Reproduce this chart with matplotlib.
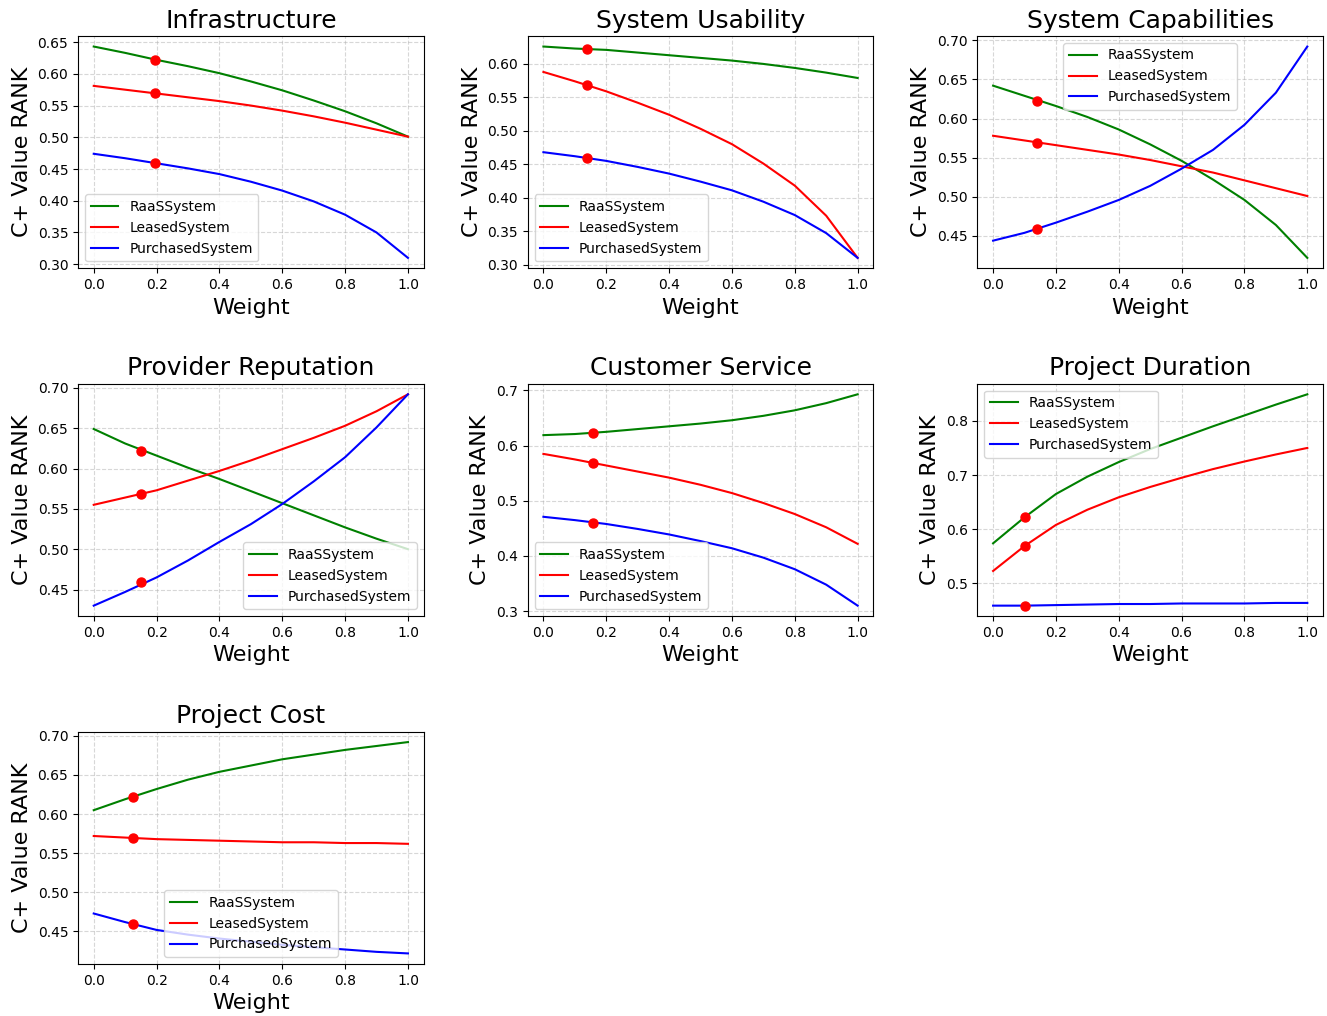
import matplotlib
matplotlib.use("Agg")
import matplotlib.pyplot as plt
import numpy as np

weights = [0.0, 0.1, 0.2, 0.3, 0.4, 0.5, 0.6, 0.7, 0.8, 0.9, 1.0]
alternatives = ["RaaSSystem", "LeasedSystem", "PurchasedSystem"]
colors = ["green", "red", "blue"]

criteria = ["Infrastructure", "System Usability", "System Capabilities",
            "Provider Reputation", "Customer Service", "Project Duration",
            "Project Cost"]

# current criterion weights and the resulting C+ values of each alternative
current_weights = [0.196, 0.138, 0.141, 0.152, 0.157, 0.100, 0.125]
current_scores = [0.622, 0.569, 0.459]

infrastructure_raas = [0.643, 0.633, 0.622, 0.612, 0.601, 0.588, 0.574, 0.558, 0.541, 0.522, 0.501]
infrastructure_leased = [0.581, 0.575, 0.569, 0.563, 0.557, 0.550, 0.542, 0.533, 0.523, 0.512, 0.501]
infrastructure_purchased = [0.474, 0.467, 0.459, 0.451, 0.442, 0.430, 0.416, 0.399, 0.378, 0.350, 0.310]

usability_raas = [0.626, 0.623, 0.621, 0.617, 0.613, 0.609, 0.605, 0.600, 0.594, 0.587, 0.579]
usability_leased = [0.588, 0.574, 0.559, 0.542, 0.524, 0.503, 0.480, 0.451, 0.418, 0.373, 0.310]
usability_purchased = [0.468, 0.462, 0.455, 0.446, 0.436, 0.424, 0.411, 0.394, 0.374, 0.347, 0.310]

capabilities_raas = [0.642, 0.629, 0.616, 0.602, 0.586, 0.567, 0.546, 0.522, 0.496, 0.464, 0.422]
capabilities_leased = [0.578, 0.572, 0.566, 0.560, 0.554, 0.547, 0.539, 0.531, 0.521, 0.511, 0.501]
capabilities_purchased = [0.444, 0.454, 0.467, 0.481, 0.496, 0.514, 0.536, 0.560, 0.592, 0.633, 0.692]

reputation_raas = [0.649, 0.631, 0.616, 0.601, 0.587, 0.572, 0.557, 0.542, 0.527, 0.513, 0.500]
reputation_leased = [0.555, 0.564, 0.573, 0.585, 0.597, 0.610, 0.624, 0.638, 0.653, 0.671, 0.692]
reputation_purchased = [0.430, 0.447, 0.465, 0.486, 0.509, 0.531, 0.556, 0.584, 0.614, 0.651, 0.692]

service_raas = [0.619, 0.621, 0.625, 0.630, 0.635, 0.640, 0.646, 0.654, 0.664, 0.677, 0.693]
service_leased = [0.585, 0.575, 0.564, 0.553, 0.542, 0.529, 0.514, 0.496, 0.476, 0.452, 0.422]
service_purchased = [0.471, 0.465, 0.458, 0.449, 0.439, 0.427, 0.414, 0.397, 0.376, 0.348, 0.310]

duration_raas = [0.574, 0.622, 0.665, 0.697, 0.724, 0.748, 0.769, 0.790, 0.810, 0.830, 0.849]
duration_leased = [0.523, 0.569, 0.608, 0.636, 0.659, 0.678, 0.695, 0.711, 0.725, 0.738, 0.750]
duration_purchased = [0.459, 0.459, 0.460, 0.461, 0.462, 0.462, 0.463, 0.463, 0.463, 0.464, 0.464]

cost_raas = [0.605, 0.619, 0.632, 0.644, 0.654, 0.662, 0.670, 0.676, 0.682, 0.687, 0.692]
cost_leased = [0.572, 0.570, 0.568, 0.567, 0.566, 0.565, 0.564, 0.564, 0.563, 0.563, 0.562]
cost_purchased = [0.473, 0.462, 0.452, 0.446, 0.441, 0.437, 0.433, 0.430, 0.427, 0.424, 0.422]

series = [
    (infrastructure_raas, infrastructure_leased, infrastructure_purchased),
    (usability_raas, usability_leased, usability_purchased),
    (capabilities_raas, capabilities_leased, capabilities_purchased),
    (reputation_raas, reputation_leased, reputation_purchased),
    (service_raas, service_leased, service_purchased),
    (duration_raas, duration_leased, duration_purchased),
    (cost_raas, cost_leased, cost_purchased),
]
legend_locs = ["lower left", "lower left", "upper center", "lower right",
               "lower left", "upper left", "lower center"]

fig, axes = plt.subplots(3, 3, figsize=(13.27, 10.16), dpi=100)
fig.subplots_adjust(left=0.0588, right=0.997, top=0.9646, bottom=0.0512,
                    wspace=0.301, hspace=0.496)
axes = axes.ravel()

for i, name in enumerate(criteria):
    ax = axes[i]
    for values, label, color in zip(series[i], alternatives, colors):
        ax.plot(weights, values, color=color, label=label, linewidth=1.5)
    for score in current_scores:
        ax.plot(current_weights[i], score, "o", color="red", markersize=6.5, zorder=3)
    ax.set_title(name, fontsize=18)
    ax.set_xlabel("Weight", fontsize=16)
    ax.set_ylabel("C+ Value RANK", fontsize=16)
    ax.grid(True, linestyle="--", alpha=0.5)
    ax.legend(loc=legend_locs[i], fontsize=10)

for ax in axes[len(criteria):]:
    ax.remove()

fig.savefig("out.png", dpi=100)
